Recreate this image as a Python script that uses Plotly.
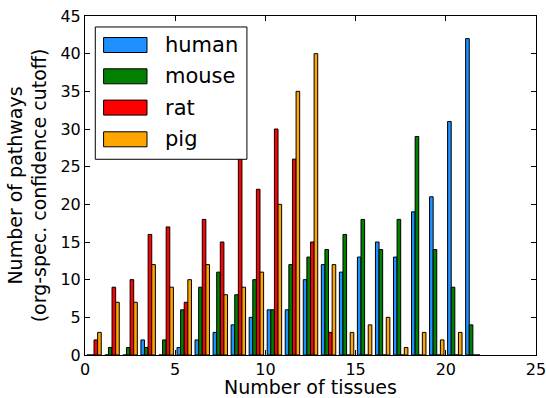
import plotly.graph_objects as go

# Histogram of number of tissues (bins of width 1 starting at 0)
bin_left = list(range(22))
human = [0, 0, 0, 2, 0, 1, 2, 3, 4, 5, 6, 6, 10, 12, 11, 13, 15, 13, 19, 21, 31, 42]
mouse = [0, 1, 1, 1, 2, 6, 9, 11, 8, 10, 6, 12, 13, 14, 16, 18, 14, 18, 29, 14, 9, 4]
rat   = [2, 9, 10, 16, 17, 7, 18, 15, 28, 22, 30, 26, 15, 3, 0, 0, 0, 0, 0, 0, 0, 0]
pig   = [3, 7, 7, 12, 9, 10, 12, 8, 9, 11, 20, 35, 40, 12, 3, 4, 5, 1, 3, 2, 3, 0]

series = [("human", human, "#1E90FF"),
          ("mouse", mouse, "#008000"),
          ("rat", rat, "#FF0000"),
          ("pig", pig, "#FFA500")]

centers = [b + 0.5 for b in bin_left]

fig = go.Figure()
for name, vals, col in series:
    fig.add_trace(go.Bar(
        x=centers, y=vals, name=name,
        marker=dict(color=col, line=dict(color="black", width=1)),
        showlegend=False,
    ))

FONT = "DejaVu Sans"
fig.update_layout(
    width=546, height=398,
    margin=dict(l=85, r=10, t=16, b=43, autoexpand=False),
    barmode="group", bargap=0.2, bargroupgap=0,
    plot_bgcolor="white", paper_bgcolor="white",
    font=dict(family=FONT, color="black"),
)
axis_common = dict(showline=True, linecolor="black", linewidth=1, mirror="ticks",
                   ticks="inside", ticklen=5, tickcolor="black", tickwidth=1,
                   showgrid=False, zeroline=False, automargin=False,
                   ticklabeloverflow="allow",
                   tickfont=dict(family=FONT, size=16, color="black"))
fig.update_xaxes(range=[0, 25], tickvals=[0, 5, 10, 15, 20, 25], **axis_common)
fig.update_yaxes(range=[0, 45], tickvals=list(range(0, 46, 5)),
                 title=dict(text="Number of pathways<br>(org-spec. confidence cutoff)",
                            font=dict(family=FONT, size=19), standoff=8),
                 **axis_common)

# Legend drawn as an opaque box on top of the bars (like matplotlib)
shapes = [dict(type="rect", xref="paper", yref="paper", x0=0.0228, x1=0.359, y0=0.5773, y1=0.9676,
               fillcolor="white", line=dict(color="black", width=1), layer="above")]
row_y_px = [44.7, 76.0, 107.3, 139.0]
annotations = [dict(xref="paper", yref="paper", x=0.5, y=(354.7 - 387.0) / 339.0,
                    text="Number of tissues", showarrow=False,
                    xanchor="center", yanchor="middle", borderpad=0,
                    font=dict(family=FONT, size=19, color="black"))]
for (name, vals, col), ypx in zip(series, row_y_px):
    yc = (354.7 - ypx) / 339.0
    h = 7.5 / 339.0
    shapes.append(dict(type="rect", xref="paper", yref="paper", x0=0.0412, x1=0.1375,
                       y0=yc - h, y1=yc + h, fillcolor=col,
                       line=dict(color="black", width=1), layer="above"))
    annotations.append(dict(xref="paper", yref="paper", x=0.172, y=yc, text=name,
                            showarrow=False, xanchor="left", yanchor="middle",
                            font=dict(family=FONT, size=21, color="black")))
fig.update_layout(shapes=shapes, annotations=annotations)

fig.write_html("out.html", config={"displayModeBar": False},
               post_script="document.body.style.margin='0px';")
